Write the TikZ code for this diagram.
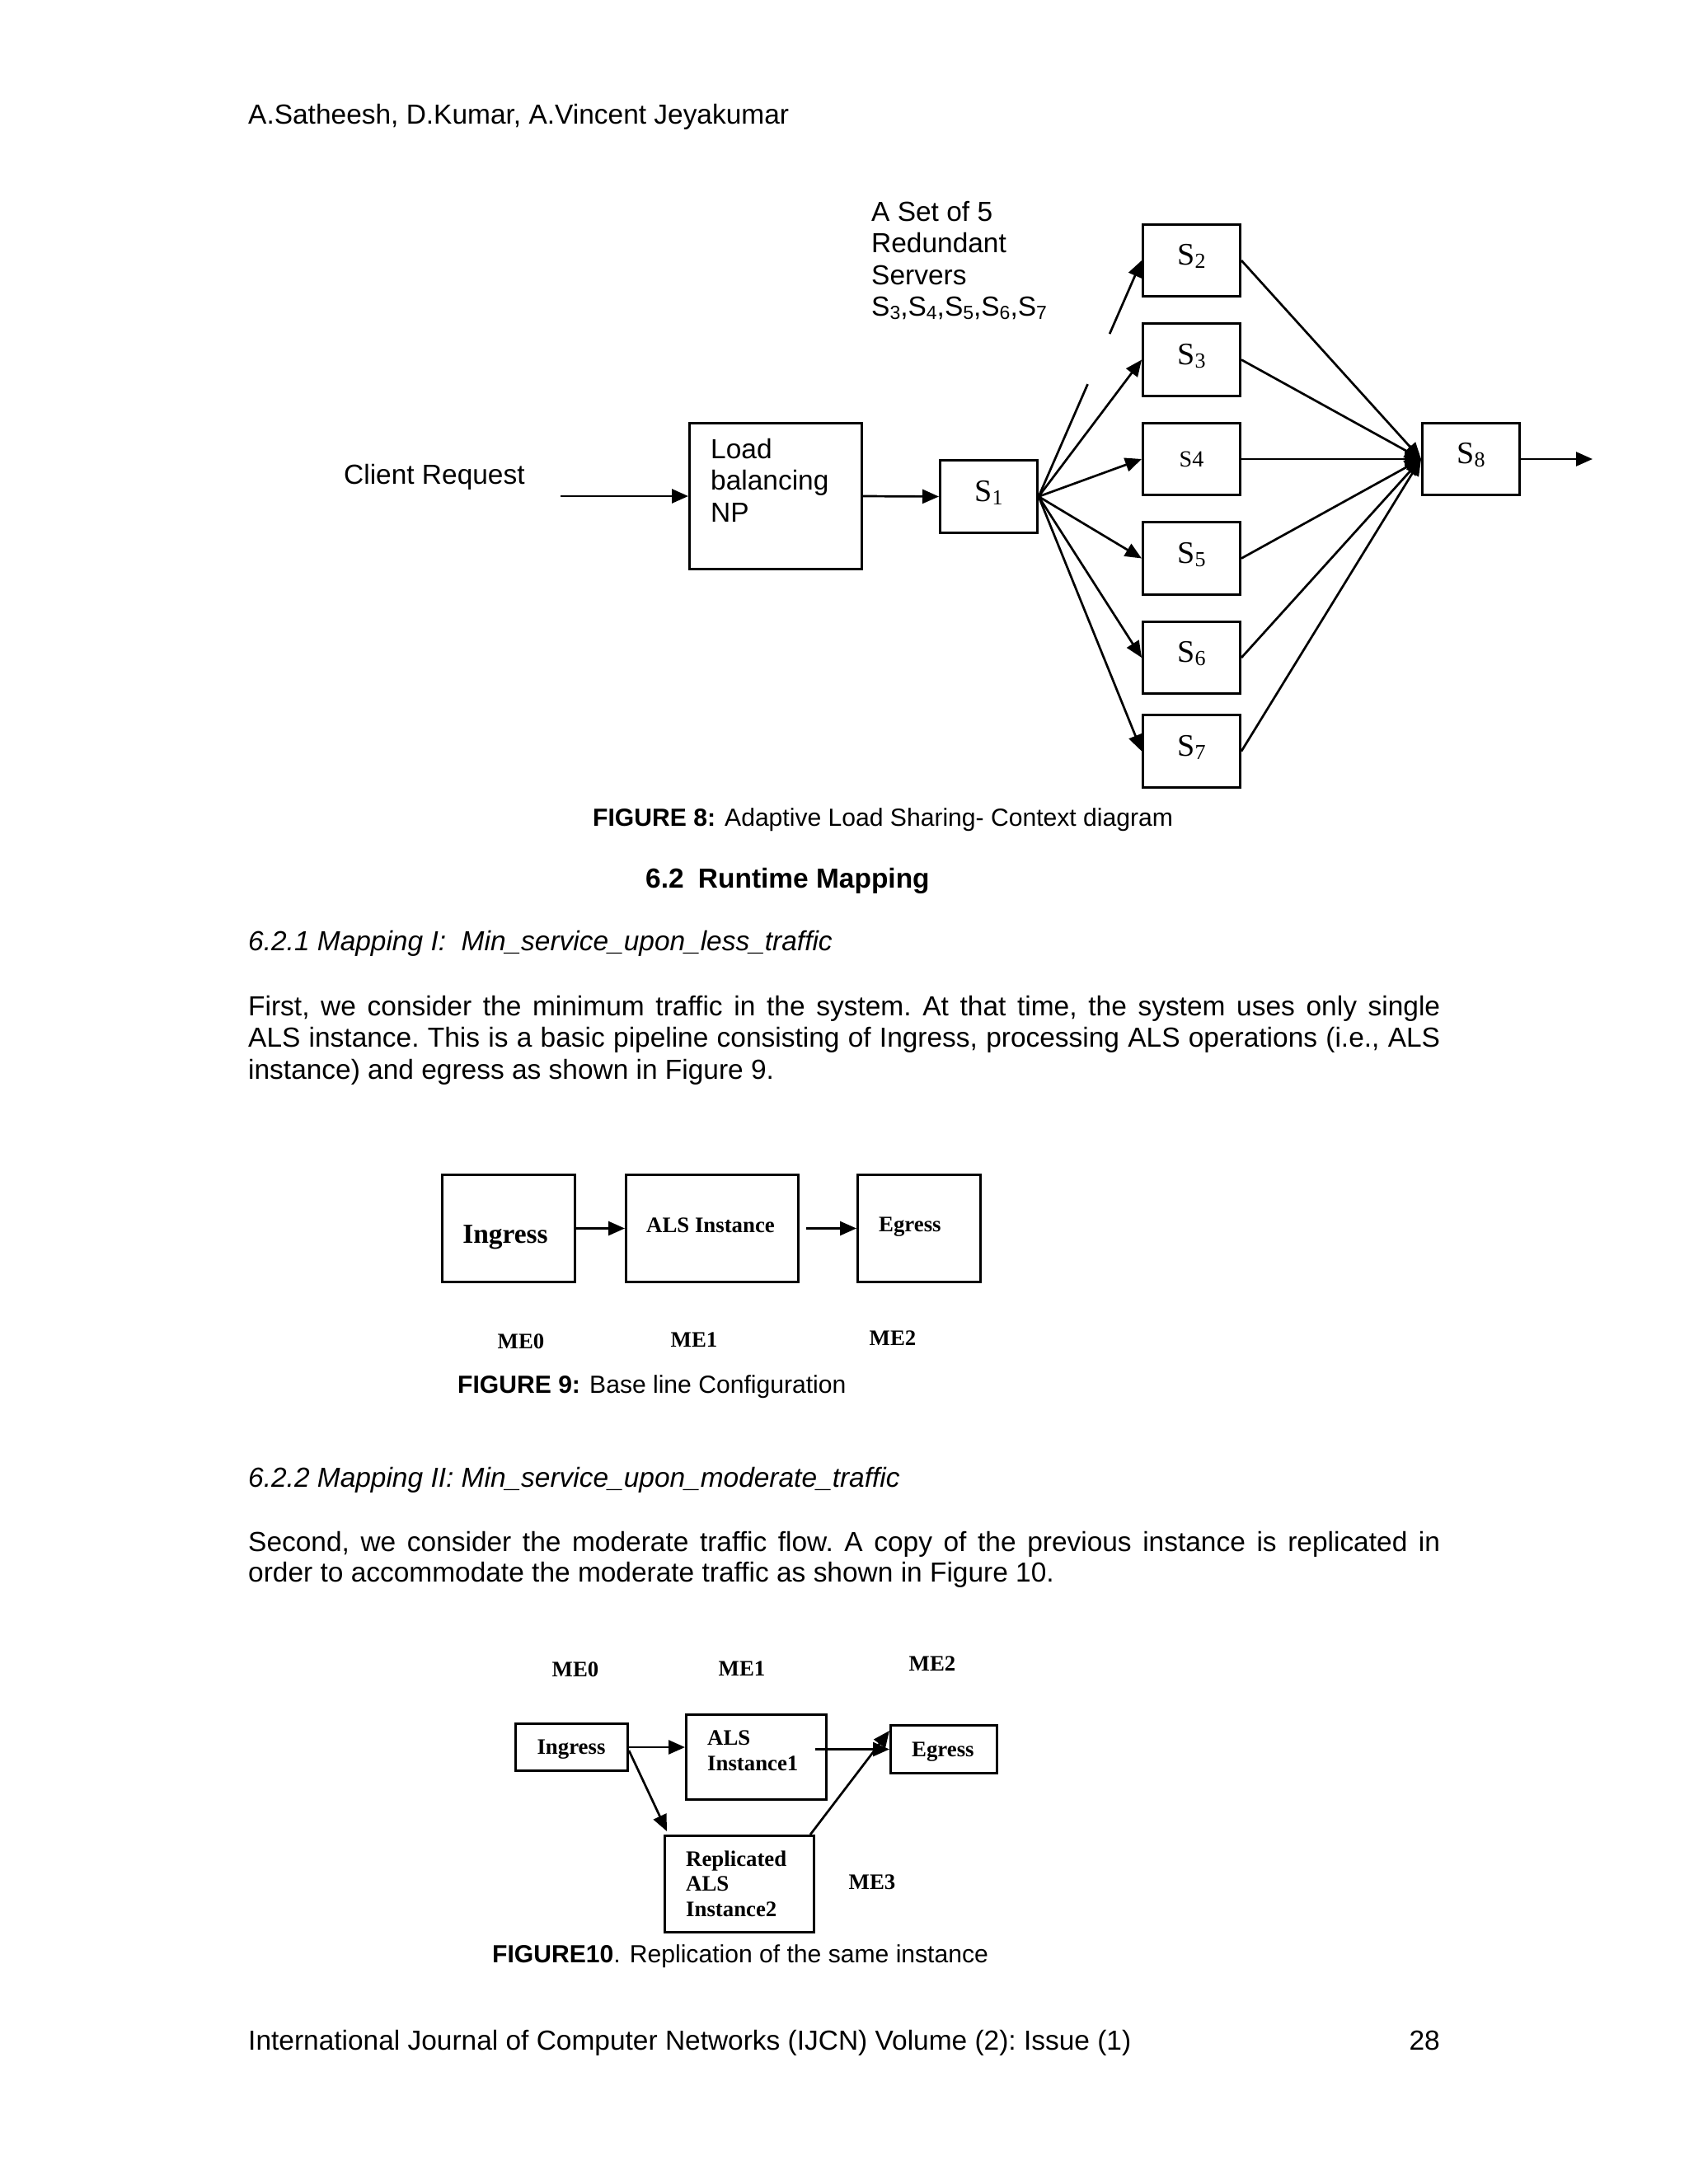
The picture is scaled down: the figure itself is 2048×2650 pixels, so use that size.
\documentclass[tikz,border=0pt]{standalone}
\usepackage{fontspec}
\setmainfont{Liberation Serif}
\newfontfamily\arial{Liberation Sans}
\usetikzlibrary{arrows.meta,calc}
\newcommand\sbsc[1]{\raisebox{-4pt}{\fontsize{26}{26}\selectfont #1}}
\newcommand\asub[1]{\raisebox{-4pt}{\fontsize{23}{23}\selectfont #1}}
\begin{document}
\begin{tikzpicture}[x=1pt,y=-1pt,line join=miter]
\tikzset{
  box/.style={draw,line width=3pt,inner sep=0pt},
  sbox/.style={box,minimum width=118pt,minimum height=87.5pt,font=\fontsize{38}{38}\selectfont,text height=16pt,text depth=5pt},
  con/.style={line width=2.7pt,-{Triangle[length=20pt,width=17pt]}},
  plain/.style={line width=2.7pt},
  body/.style={font=\arial\fontsize{33.46}{38.5}\selectfont\frenchspacing,inner sep=0pt,anchor=base west},
  bodyb/.style={body,font=\arial\bfseries\fontsize{33.46}{38.5}\selectfont},
  capt/.style={font=\arial\fontsize{30.1}{35}\selectfont,inner sep=0pt,anchor=base west},
  lab/.style={font=\bfseries\fontsize{26.8}{31}\selectfont,inner sep=0pt,anchor=base},
  labbig/.style={lab,font=\bfseries\fontsize{33.46}{38}\selectfont},
}
\path[fill=white] (0,0) rectangle (2048,2650);
\useasboundingbox (0,0) rectangle (2048,2650);

% header
\node[body] (hdr) at (301,150) {A.Satheesh, D.Kumar, A.Vincent Jeyakumar};

% ---------- Figure 8 ----------
\node[body] (client) at (417,587) {Client Request};
\node[box,minimum width=209pt,minimum height=177pt] (lb) at (941,602) {};
\node[body] (lbt) at (862,556) {\parbox[t]{180pt}{\raggedright Load\\balancing\\NP}};
\node[sbox] (s1) at (1199.5,602.5) {S\sbsc{1}};
\node[sbox] (s2) at (1445.5,316) {S\sbsc{2}};
\node[sbox] (s3) at (1445.5,436.5) {S\sbsc{3}};
\node[sbox,font=\fontsize{28}{28}\selectfont,text height=18pt,text depth=0pt] (s4) at (1445.5,557) {S4};
\node[sbox] (s5) at (1445.5,677.5) {S\sbsc{5}};
\node[sbox] (s6) at (1445.5,798) {S\sbsc{6}};
\node[sbox] (s7) at (1445.5,911.5) {S\sbsc{7}};
\node[sbox] (s8) at (1784.5,557) {S\sbsc{8}};
\node[body] (setlbl) at (1057,268) {\parbox[t]{320pt}{\raggedright A Set of 5\\Redundant\\Servers\\S\asub{3},S\asub{4},S\asub{5},S\asub{6},S\asub{7}}};

\coordinate (cin) at (680,602);
\draw[con] (cin) -- (lb.west);
\draw[con] (lb.east) -- (s1.west);
\draw[plain] (s1.east) -- ($(s1.east)!0.476!(s2.west)$);
\draw[con] ($(s1.east)!0.689!(s2.west)$) -- (s2.west);
\foreach \n in {3,...,7} \draw[con] (s1.east) -- (s\n.west);
\foreach \n in {2,...,7} \draw[con] (s\n.east) -- (s8.west);
\coordinate (out) at (1932,557);
\draw[con] (s8.east) -- (out);

\node[capt] (cap8) at (719,1002) {\textbf{FIGURE 8:} Adaptive Load Sharing- Context diagram};

% ---------- text ----------
\node[bodyb] (h62) at (783,1077) {6.2\hspace{8pt} Runtime Mapping};
\node[body] (h621) at (301,1153) {\itshape 6.2.1 Mapping I:\ \ Min\_service\_upon\_less\_traffic};
\node[body] (p1) at (301,1232) {\parbox[t]{1446pt}{\parindent0pt\hyphenpenalty10000
First, we consider the minimum traffic in the system. At that time, the system uses only single\linebreak
ALS instance. This is a basic pipeline consisting of Ingress, processing ALS operations (i.e., ALS\linebreak
instance) and egress as shown in Figure 9.}};

% ---------- Figure 9 ----------
\node[box,minimum width=161pt,minimum height=130pt] (ing9) at (617,1490.5) {};
\node[box,minimum width=209pt,minimum height=130pt] (als9) at (864,1490.5) {};
\node[box,minimum width=149pt,minimum height=130pt] (egr9) at (1115,1490.5) {};
\node[labbig] (ing9t) at (613,1508) {Ingress};
\node[lab] (als9t) at (862,1495) {ALS Instance};
\node[lab,anchor=base west] (egr9t) at (1066,1494) {Egress};
\draw[con] (ing9.east) -- (als9.west);
\coordinate (a9) at (978,1490.5);
\draw[con] (a9) -- (egr9.west);
\node[lab] (me09) at (632,1636) {ME0};
\node[lab] (me19) at (842,1634) {ME1};
\node[lab] (me29) at (1083,1632) {ME2};
\node[capt] (cap9) at (555,1690) {\textbf{FIGURE 9:} Base line Configuration};

% ---------- text ----------
\node[body] (h622) at (301,1804) {\itshape 6.2.2 Mapping II: Min\_service\_upon\_moderate\_traffic};
\node[body] (p2) at (301,1882) {\parbox[t]{1446pt}{\fontsize{33.46}{37}\selectfont\parindent0pt\hyphenpenalty10000
Second, we consider the moderate traffic flow. A copy of the previous instance is replicated in\linebreak
order to accommodate the moderate traffic as shown in Figure 10.}};

% ---------- Figure 10 ----------
\node[lab] (me010) at (698,2034) {ME0};
\node[lab] (me110) at (900,2033) {ME1};
\node[lab] (me210) at (1131,2027) {ME2};
\node[lab] (me310) at (1058,2292) {ME3};
\node[box,minimum width=136pt,minimum height=57pt] (ing10) at (693.5,2120) {};
\node[box,minimum width=170pt,minimum height=103pt] (als10) at (917.5,2132) {};
\node[box,minimum width=129pt,minimum height=58pt] (egr10) at (1145,2122.5) {};
\node[box,minimum width=181pt,minimum height=117pt] (rep10) at (897,2286) {};
\node[lab] (ing10t) at (693,2128) {Ingress};
\node[lab,anchor=base west] (als10t) at (858,2117) {\parbox[t]{140pt}{\raggedright ALS\\Instance1}};
\node[lab,anchor=base west] (egr10t) at (1106,2131) {Egress};
\node[lab,anchor=base west] (rep10t) at (832,2264) {\parbox[t]{150pt}{\fontsize{26.8}{30.5}\selectfont\raggedright Replicated\\ALS\\Instance2}};
\draw[con] (ing10.east) -- (als10.west |- ing10.east);
\coordinate (a10) at (989,2122.5);
\draw[con] (a10) -- (egr10.west);
\draw[con] ([yshift=-4pt]ing10.east) -- ([xshift=4pt,yshift=4pt]rep10.north west);
\draw[con] ([xshift=-6pt]rep10.north east) -- ([yshift=-8pt]egr10.north west);
\node[capt] (cap10) at (597,2381) {\textbf{FIGURE10}. Replication of the same instance};

% footer
\node[body] (ftr) at (301,2487) {International Journal of Computer Networks (IJCN) Volume (2): Issue (1)};
\node[body,anchor=base east] (pg) at (1747,2487) {28};
\end{tikzpicture}
\end{document}
